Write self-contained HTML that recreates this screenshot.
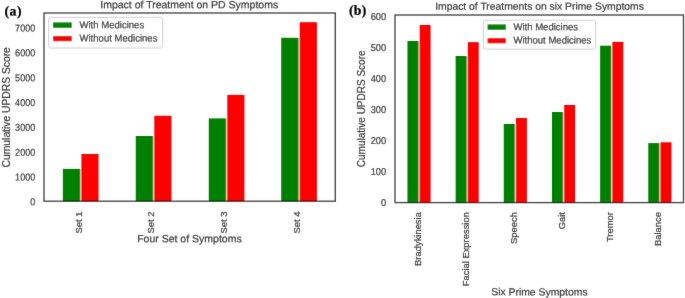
<!DOCTYPE html>
<html><head><meta charset="utf-8"><title>chart</title>
<style>html,body{margin:0;padding:0;background:#fff}body{width:685px;height:298px;overflow:hidden}</style></head>
<body>
<svg width="685" height="298" viewBox="0 0 685 298" style="display:block" font-family="Liberation Sans, sans-serif" fill="#3c3c3c">
<defs><filter id="bl" x="-2%" y="-2%" width="104%" height="104%"><feConvolveMatrix order="3" kernelMatrix="0.00524 0.06192 0.00524 0.06192 0.73137 0.06192 0.00524 0.06192 0.00524" divisor="1" edgeMode="duplicate" preserveAlpha="false"/></filter></defs>
<rect width="685" height="298" fill="#fff"/>
<g filter="url(#bl)">
<rect x="79.98" y="168.90" width="1.45" height="32.30" fill="#dcc6a2"/>
<rect x="62.88" y="168.90" width="17.10" height="32.30" fill="#008000"/>
<rect x="81.42" y="154.00" width="17.10" height="47.20" fill="#ff0000"/>
<rect x="152.88" y="136.00" width="1.45" height="65.20" fill="#dcc6a2"/>
<rect x="135.78" y="136.00" width="17.10" height="65.20" fill="#008000"/>
<rect x="154.32" y="115.80" width="17.10" height="85.40" fill="#ff0000"/>
<rect x="225.88" y="118.40" width="1.45" height="82.80" fill="#dcc6a2"/>
<rect x="208.78" y="118.40" width="17.10" height="82.80" fill="#008000"/>
<rect x="227.32" y="94.90" width="17.10" height="106.30" fill="#ff0000"/>
<rect x="298.32" y="37.80" width="1.45" height="163.40" fill="#dcc6a2"/>
<rect x="281.22" y="37.80" width="17.10" height="163.40" fill="#008000"/>
<rect x="299.78" y="22.20" width="17.10" height="179.00" fill="#ff0000"/>
<rect x="418.30" y="41.00" width="1.40" height="161.60" fill="#dcc6a2"/>
<rect x="407.45" y="41.00" width="10.85" height="161.60" fill="#008000"/>
<rect x="419.70" y="25.00" width="10.85" height="177.60" fill="#ff0000"/>
<rect x="466.47" y="56.00" width="1.40" height="146.60" fill="#dcc6a2"/>
<rect x="455.62" y="56.00" width="10.85" height="146.60" fill="#008000"/>
<rect x="467.87" y="42.20" width="10.85" height="160.40" fill="#ff0000"/>
<rect x="514.64" y="124.00" width="1.40" height="78.60" fill="#dcc6a2"/>
<rect x="503.79" y="124.00" width="10.85" height="78.60" fill="#008000"/>
<rect x="516.04" y="118.00" width="10.85" height="84.60" fill="#ff0000"/>
<rect x="562.81" y="112.00" width="1.40" height="90.60" fill="#dcc6a2"/>
<rect x="551.96" y="112.00" width="10.85" height="90.60" fill="#008000"/>
<rect x="564.21" y="105.00" width="10.85" height="97.60" fill="#ff0000"/>
<rect x="610.98" y="45.70" width="1.40" height="156.90" fill="#dcc6a2"/>
<rect x="600.13" y="45.70" width="10.85" height="156.90" fill="#008000"/>
<rect x="612.38" y="41.90" width="10.85" height="160.70" fill="#ff0000"/>
<rect x="659.15" y="143.10" width="1.40" height="59.50" fill="#dcc6a2"/>
<rect x="648.30" y="143.10" width="10.85" height="59.50" fill="#008000"/>
<rect x="660.55" y="142.30" width="10.85" height="60.30" fill="#ff0000"/>
<rect x="44.0" y="13.0" width="291.30" height="188.20" fill="none" stroke="#000" stroke-opacity="0.7" stroke-width="1.4"/>
<rect x="395.0" y="15.0" width="288.50" height="187.60" fill="none" stroke="#000" stroke-opacity="0.7" stroke-width="1.4"/>
<text transform="translate(189.2,8.3) rotate(0.04)" font-size="10.5" text-anchor="middle" stroke="#3c3c3c" stroke-width="0.22">Impact of Treatment on PD Symptoms</text>
<text transform="translate(539.5,9.8) rotate(0.04)" font-size="10.35" text-anchor="middle" stroke="#3c3c3c" stroke-width="0.22">Impact of Treatments on six Prime Symptoms</text>
<text transform="translate(4.4,15.4) rotate(0.04)" font-family="Liberation Serif, serif" font-weight="bold" font-size="13.8" letter-spacing="0.5" fill="#000" stroke="#000" stroke-width="0.25">(a)</text>
<text transform="translate(348.9,14.7) rotate(0.04)" font-family="Liberation Serif, serif" font-weight="bold" font-size="13.8" letter-spacing="0.35" fill="#000" stroke="#000" stroke-width="0.25">(b)</text>
<text transform="translate(35.2,205.30) rotate(0.04) scale(0.905,1)" font-size="10.0" text-anchor="end" stroke="#3c3c3c" stroke-width="0.22">0</text>
<text transform="translate(35.2,180.47) rotate(0.04) scale(0.905,1)" font-size="10.0" text-anchor="end" stroke="#3c3c3c" stroke-width="0.22">1000</text>
<text transform="translate(35.2,155.64) rotate(0.04) scale(0.905,1)" font-size="10.0" text-anchor="end" stroke="#3c3c3c" stroke-width="0.22">2000</text>
<text transform="translate(35.2,130.81) rotate(0.04) scale(0.905,1)" font-size="10.0" text-anchor="end" stroke="#3c3c3c" stroke-width="0.22">3000</text>
<text transform="translate(35.2,105.98) rotate(0.04) scale(0.905,1)" font-size="10.0" text-anchor="end" stroke="#3c3c3c" stroke-width="0.22">4000</text>
<text transform="translate(35.2,81.15) rotate(0.04) scale(0.905,1)" font-size="10.0" text-anchor="end" stroke="#3c3c3c" stroke-width="0.22">5000</text>
<text transform="translate(35.2,56.32) rotate(0.04) scale(0.905,1)" font-size="10.0" text-anchor="end" stroke="#3c3c3c" stroke-width="0.22">6000</text>
<text transform="translate(35.2,31.49) rotate(0.04) scale(0.905,1)" font-size="10.0" text-anchor="end" stroke="#3c3c3c" stroke-width="0.22">7000</text>
<text transform="translate(386.2,206.10) rotate(0.04) scale(0.93,1)" font-size="10.0" text-anchor="end" stroke="#3c3c3c" stroke-width="0.22">0</text>
<text transform="translate(386.2,175.10) rotate(0.04) scale(0.93,1)" font-size="10.0" text-anchor="end" stroke="#3c3c3c" stroke-width="0.22">100</text>
<text transform="translate(386.2,144.10) rotate(0.04) scale(0.93,1)" font-size="10.0" text-anchor="end" stroke="#3c3c3c" stroke-width="0.22">200</text>
<text transform="translate(386.2,113.10) rotate(0.04) scale(0.93,1)" font-size="10.0" text-anchor="end" stroke="#3c3c3c" stroke-width="0.22">300</text>
<text transform="translate(386.2,82.10) rotate(0.04) scale(0.93,1)" font-size="10.0" text-anchor="end" stroke="#3c3c3c" stroke-width="0.22">400</text>
<text transform="translate(386.2,51.10) rotate(0.04) scale(0.93,1)" font-size="10.0" text-anchor="end" stroke="#3c3c3c" stroke-width="0.22">500</text>
<text transform="translate(386.2,20.10) rotate(0.04) scale(0.93,1)" font-size="10.0" text-anchor="end" stroke="#3c3c3c" stroke-width="0.22">600</text>
<text transform="translate(9.6,107.3) rotate(-90)" font-size="10.3" text-anchor="middle" stroke="#3c3c3c" stroke-width="0.22">Cumulative UPDRS Score</text>
<text transform="translate(364.8,108.8) rotate(-90)" font-size="10.0" text-anchor="middle" stroke="#3c3c3c" stroke-width="0.22">Cumulative UPDRS Score</text>
<text transform="translate(81.50,211.5) rotate(-90) scale(0.969,1)" font-size="9.7" text-anchor="end" stroke="#3c3c3c" stroke-width="0.22">Set 1</text>
<text transform="translate(154.40,211.5) rotate(-90) scale(0.969,1)" font-size="9.7" text-anchor="end" stroke="#3c3c3c" stroke-width="0.22">Set 2</text>
<text transform="translate(227.40,211.5) rotate(-90) scale(0.969,1)" font-size="9.7" text-anchor="end" stroke="#3c3c3c" stroke-width="0.22">Set 3</text>
<text transform="translate(299.85,211.5) rotate(-90) scale(0.969,1)" font-size="9.7" text-anchor="end" stroke="#3c3c3c" stroke-width="0.22">Set 4</text>
<text transform="translate(421.30,212.1) rotate(-90) scale(0.969,1)" font-size="9.7" text-anchor="end" stroke="#3c3c3c" stroke-width="0.22">Bradykinesia</text>
<text transform="translate(469.47,212.1) rotate(-90) scale(0.969,1)" font-size="9.7" text-anchor="end" stroke="#3c3c3c" stroke-width="0.22">Facial Expression</text>
<text transform="translate(516.64,212.1) rotate(-90) scale(0.969,1)" font-size="9.7" text-anchor="end" stroke="#3c3c3c" stroke-width="0.22">Speech</text>
<text transform="translate(565.11,212.1) rotate(-90) scale(0.969,1)" font-size="9.7" text-anchor="end" stroke="#3c3c3c" stroke-width="0.22">Gait</text>
<text transform="translate(613.08,212.1) rotate(-90) scale(0.969,1)" font-size="9.7" text-anchor="end" stroke="#3c3c3c" stroke-width="0.22">Tremor</text>
<text transform="translate(661.45,212.1) rotate(-90) scale(0.969,1)" font-size="9.7" text-anchor="end" stroke="#3c3c3c" stroke-width="0.22">Balance</text>
<text transform="translate(189.4,242.2) rotate(0.04)" font-size="10.5" text-anchor="middle" stroke="#3c3c3c" stroke-width="0.22">Four Set of Symptoms</text>
<text transform="translate(539.4,295.4) rotate(0.04)" font-size="10.4" text-anchor="middle" stroke="#3c3c3c" stroke-width="0.22">Six Prime Symptoms</text>
<rect x="48.6" y="17.4" width="114" height="30.6" rx="2.2" fill="#fff" fill-opacity="0.8" stroke="#d2d2d2" stroke-width="1"/><rect x="53.1" y="22.4" width="18.6" height="5.4" fill="#008000"/><rect x="53.1" y="36.0" width="18.6" height="5.2" fill="#ff0000"/><text transform="translate(79.5,28.3) rotate(0.04) scale(0.955,1)" font-size="10.0" fill="#333" stroke="#333" stroke-width="0.22">With Medicines</text><text transform="translate(79.5,41.4) rotate(0.04) scale(0.955,1)" font-size="10.0" fill="#333" stroke="#333" stroke-width="0.22">Without Medicines</text>
<rect x="483.4" y="20.2" width="112.2" height="29.0" rx="2.2" fill="#fff" fill-opacity="0.8" stroke="#d2d2d2" stroke-width="1"/><rect x="487.6" y="24.4" width="18.2" height="5.4" fill="#008000"/><rect x="487.6" y="38.1" width="18.2" height="5.2" fill="#ff0000"/><text transform="translate(513.4,30.2) rotate(0.04) scale(0.955,1)" font-size="10.0" fill="#333" stroke="#333" stroke-width="0.22">With Medicines</text><text transform="translate(513.4,43.4) rotate(0.04) scale(0.955,1)" font-size="10.0" fill="#333" stroke="#333" stroke-width="0.22">Without Medicines</text>
</g>
</svg>
</body></html>
